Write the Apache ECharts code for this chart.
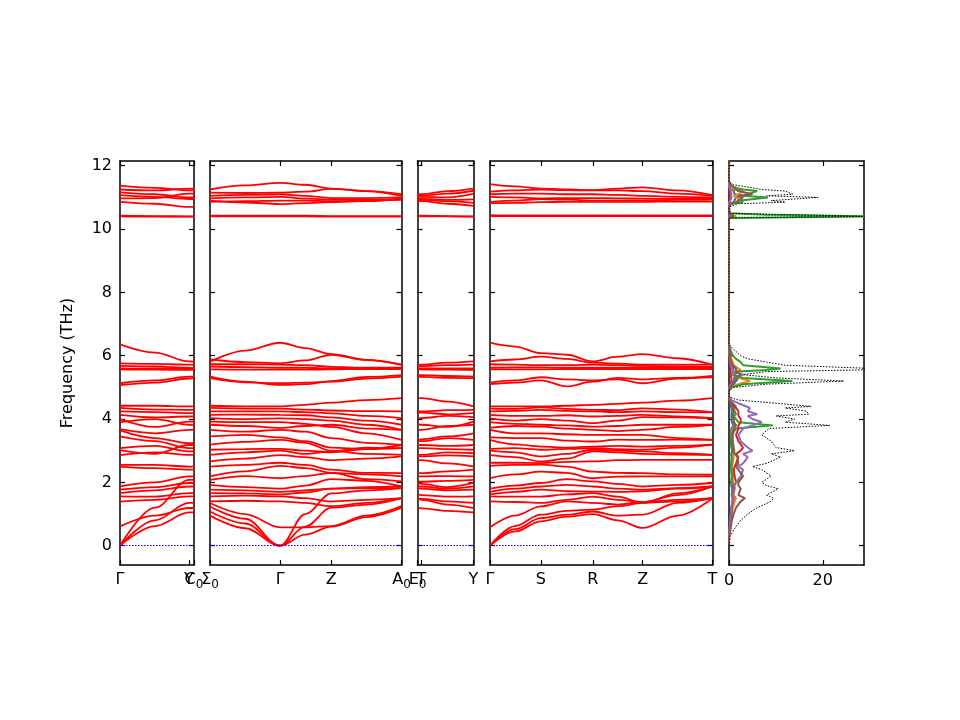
<!DOCTYPE html>
<html>
<head>
<meta charset="utf-8">
<title>Phonon bands and DOS</title>
<script src="https://cdn.jsdelivr.net/npm/echarts@6.0.0/dist/echarts.min.js"></script>
<style>
  html, body { margin: 0; padding: 0; background: #fff; }
  #chart { width: 960px; height: 720px; }
</style>
</head>
<body>
<div id="chart"></div>
<script>
// ---------------- data ----------------
var yTicks = [0, 2, 4, 6, 8, 10, 12];

// panel 1 : Γ - Y - C0
var p1X = [0, 35, 69, 74];
var p1Ticks = [0, 69, 74];
var p1Labels = ['Γ', 'Y', 'C₀'];
var p1Bands = [
  [11.37, 11.30, 11.22, 11.22], [11.25, 11.22, 11.28, 11.28], [11.16, 11.10, 11.00, 11.00],
  [11.07, 11.02, 10.95, 10.95], [10.97, 10.98, 11.12, 11.12], [10.86, 10.80, 10.70, 10.70],
  [10.42, 10.41, 10.40, 10.40], [10.40, 10.39, 10.39, 10.39],
  [6.36, 6.10, 5.82, 5.81], [5.76, 5.74, 5.72, 5.71], [5.68, 5.66, 5.62, 5.60],
  [5.60, 5.59, 5.58, 5.58], [5.57, 5.56, 5.55, 5.55], [5.13, 5.22, 5.34, 5.34],
  [5.07, 5.15, 5.28, 5.29],
  [4.42, 4.42, 4.40, 4.40], [4.35, 4.30, 4.29, 4.29], [4.24, 4.22, 4.19, 4.19],
  [4.13, 4.05, 4.08, 4.08], [4.00, 3.75, 3.92, 3.92], [3.90, 4.00, 3.82, 3.82],
  [3.68, 3.55, 3.66, 3.66], [3.64, 3.40, 3.24, 3.24], [3.45, 3.30, 3.08, 3.08],
  [3.08, 3.15, 2.98, 2.98], [3.02, 2.90, 3.18, 3.18], [2.86, 2.95, 2.87, 2.87],
  [2.55, 2.55, 2.50, 2.50], [2.50, 2.45, 2.40, 2.40], [1.87, 2.00, 2.19, 2.19],
  [1.77, 1.85, 1.98, 1.98], [1.66, 1.75, 1.87, 1.87], [1.56, 1.55, 1.66, 1.66],
  [1.39, 1.45, 1.56, 1.56], [0.61, 0.95, 1.19, 1.19],
  [0, 1.20, 2.08, 2.08], [0, 0.80, 1.35, 1.35], [0, 0.62, 1.05, 1.05]
];

// panel 2 : Σ0 - Γ - Z - A0
var p2X = [0, 35, 70, 95, 121, 156, 191];
var p2Ticks = [0, 70, 121, 191];
var p2Labels = ['Σ₀', 'Γ', 'Z', 'A₀'];
var p2Bands = [
  [11.25, 11.38, 11.46, 11.40, 11.28, 11.20, 11.10],
  [11.15, 11.14, 11.15, 11.18, 11.27, 11.20, 11.05],
  [11.05, 11.08, 11.10, 11.05, 10.98, 10.98, 11.00],
  [10.97, 11.00, 11.02, 10.96, 10.93, 10.92, 10.95],
  [10.86, 10.88, 10.90, 10.90, 10.88, 10.90, 10.92],
  [10.90, 10.84, 10.79, 10.82, 10.85, 10.88, 10.98],
  [10.42, 10.42, 10.42, 10.42, 10.41, 10.41, 10.41],
  [10.40, 10.40, 10.40, 10.40, 10.39, 10.39, 10.39],
  [5.81, 6.16, 6.41, 6.24, 6.05, 5.87, 5.71],
  [5.88, 5.80, 5.76, 5.85, 6.03, 5.86, 5.72],
  [5.73, 5.73, 5.72, 5.70, 5.65, 5.62, 5.62],
  [5.66, 5.64, 5.62, 5.62, 5.60, 5.60, 5.60],
  [5.57, 5.56, 5.56, 5.56, 5.57, 5.58, 5.58],
  [5.34, 5.18, 5.08, 5.10, 5.20, 5.33, 5.39],
  [5.29, 5.16, 5.13, 5.15, 5.18, 5.28, 5.34],
  [4.42, 4.40, 4.40, 4.45, 4.52, 4.60, 4.66],
  [4.35, 4.33, 4.33, 4.30, 4.27, 4.25, 4.24],
  [4.24, 4.24, 4.24, 4.22, 4.18, 4.10, 4.03],
  [4.13, 4.14, 4.13, 4.12, 4.05, 3.95, 3.82],
  [4.03, 4.00, 4.02, 4.00, 3.95, 3.82, 3.66],
  [3.92, 3.90, 3.90, 3.85, 3.75, 3.55, 3.34],
  [3.82, 3.78, 3.72, 3.78, 3.82, 3.70, 3.66],
  [3.66, 3.60, 3.66, 3.60, 3.40, 3.25, 3.18],
  [3.45, 3.50, 3.42, 3.30, 3.10, 3.05, 3.08],
  [3.19, 3.28, 3.34, 3.25, 3.00, 2.90, 2.87],
  [3.03, 3.05, 3.06, 3.00, 2.95, 3.05, 3.18],
  [2.87, 2.95, 3.00, 2.90, 2.98, 3.10, 3.08],
  [2.66, 2.75, 2.86, 2.80, 2.70, 2.75, 2.82],
  [2.50, 2.55, 2.62, 2.55, 2.40, 2.30, 2.29],
  [2.19, 2.35, 2.52, 2.45, 2.30, 2.25, 2.19],
  [2.08, 2.20, 2.13, 2.20, 2.30, 2.10, 2.03],
  [1.92, 1.85, 1.80, 1.90, 2.10, 2.05, 1.87],
  [1.77, 1.75, 1.70, 1.75, 1.80, 1.85, 1.87],
  [1.66, 1.65, 1.62, 1.68, 1.80, 1.82, 1.82],
  [1.56, 1.58, 1.56, 1.50, 1.40, 1.45, 1.50],
  [1.40, 1.42, 1.40, 1.35, 1.25, 1.35, 1.50],
  [1.35, 1.00, 0.58, 0.58, 0.62, 0.95, 1.25],
  [1.24, 0.85, 0, 1.00, 1.65, 1.75, 1.82],
  [1.08, 0.70, 0, 0.60, 1.20, 1.30, 1.50],
  [0.95, 0.55, 0, 0.35, 0.60, 0.90, 1.20]
];

// panel 3 : E0 - T - Y
var p3X = [0, 4, 30, 56];
var p3Ticks = [0, 4, 56];
var p3Labels = ['E₀', 'T', 'Y'];
var p3Bands = [
  [11.10, 11.10, 11.20, 11.28], [11.05, 11.05, 11.12, 11.21], [11.02, 11.02, 11.00, 11.12],
  [10.95, 10.95, 10.92, 10.94], [10.92, 10.92, 10.88, 10.83], [10.88, 10.88, 10.80, 10.73],
  [10.42, 10.42, 10.41, 10.40], [10.40, 10.40, 10.40, 10.39],
  [5.71, 5.72, 5.78, 5.82], [5.66, 5.67, 5.70, 5.72], [5.60, 5.60, 5.60, 5.60],
  [5.57, 5.57, 5.56, 5.55], [5.39, 5.39, 5.36, 5.34], [5.34, 5.33, 5.30, 5.29],
  [4.66, 4.66, 4.55, 4.40], [4.24, 4.24, 4.28, 4.29], [4.20, 4.20, 4.15, 4.19],
  [4.03, 4.03, 4.10, 4.06], [3.82, 3.82, 3.75, 3.92], [3.66, 3.66, 3.78, 3.82],
  [3.34, 3.36, 3.45, 3.55], [3.30, 3.30, 3.40, 3.34], [3.18, 3.18, 3.15, 3.18],
  [3.08, 3.08, 3.05, 3.03], [2.87, 2.87, 2.95, 2.92], [2.82, 2.82, 2.85, 2.82],
  [2.71, 2.70, 2.60, 2.50], [2.29, 2.29, 2.35, 2.40], [2.19, 2.19, 2.20, 2.19],
  [2.03, 2.02, 2.05, 2.08], [1.98, 1.95, 1.85, 1.98], [1.87, 1.87, 1.80, 1.87],
  [1.82, 1.80, 1.75, 1.77], [1.61, 1.60, 1.55, 1.56], [1.50, 1.48, 1.40, 1.35],
  [1.50, 1.45, 1.30, 1.19], [1.20, 1.18, 1.10, 1.05]
];

// panel 4 : Γ - S - R - Z - T
var p4X = [0, 25, 51, 77, 103, 128, 153, 188, 223];
var p4Ticks = [0, 51, 103, 153, 223];
var p4Labels = ['Γ', 'S', 'R', 'Z', 'T'];
var p4Bands = [
  [11.42, 11.35, 11.28, 11.25, 11.23, 11.28, 11.32, 11.22, 11.07],
  [11.18, 11.22, 11.25, 11.23, 11.22, 11.22, 11.20, 11.12, 11.05],
  [11.10, 11.12, 11.12, 11.10, 11.10, 11.08, 11.05, 11.02, 11.00],
  [11.02, 11.00, 10.97, 10.98, 10.98, 10.97, 10.96, 10.95, 10.95],
  [10.86, 10.90, 10.95, 10.93, 10.90, 10.90, 10.90, 10.92, 10.93],
  [10.82, 10.83, 10.85, 10.86, 10.86, 10.86, 10.86, 10.87, 10.87],
  [10.44, 10.43, 10.43, 10.43, 10.43, 10.43, 10.43, 10.43, 10.43],
  [10.41, 10.41, 10.41, 10.41, 10.41, 10.41, 10.41, 10.41, 10.41],
  [6.41, 6.29, 6.08, 6.03, 5.82, 5.97, 6.05, 5.92, 5.71],
  [5.82, 5.88, 5.97, 5.90, 5.78, 5.75, 5.72, 5.72, 5.72],
  [5.73, 5.72, 5.70, 5.70, 5.72, 5.70, 5.68, 5.66, 5.65],
  [5.62, 5.63, 5.63, 5.62, 5.62, 5.62, 5.62, 5.62, 5.62],
  [5.57, 5.57, 5.57, 5.58, 5.58, 5.58, 5.58, 5.58, 5.58],
  [5.15, 5.22, 5.32, 5.25, 5.22, 5.25, 5.13, 5.28, 5.36],
  [5.10, 5.15, 5.22, 5.03, 5.18, 5.30, 5.25, 5.30, 5.32],
  [4.40, 4.40, 4.40, 4.42, 4.45, 4.48, 4.52, 4.58, 4.66],
  [4.33, 4.32, 4.37, 4.32, 4.29, 4.28, 4.34, 4.30, 4.21],
  [4.24, 4.26, 4.29, 4.26, 4.24, 4.22, 4.24, 4.22, 4.21],
  [4.13, 4.10, 4.10, 4.12, 4.08, 4.10, 4.13, 4.08, 4.03],
  [4.02, 3.95, 4.00, 3.95, 3.87, 3.95, 4.06, 4.05, 4.03],
  [3.90, 3.85, 3.82, 3.80, 3.76, 3.78, 3.82, 3.82, 3.82],
  [3.72, 3.78, 3.76, 3.70, 3.66, 3.62, 3.66, 3.75, 3.82],
  [3.66, 3.55, 3.55, 3.52, 3.50, 3.50, 3.50, 3.40, 3.34],
  [3.42, 3.40, 3.40, 3.32, 3.29, 3.35, 3.34, 3.35, 3.34],
  [3.34, 3.20, 3.13, 3.10, 3.13, 3.15, 3.13, 3.15, 3.19],
  [3.06, 3.08, 3.03, 3.06, 3.08, 3.05, 3.03, 3.10, 3.19],
  [3.00, 2.95, 2.82, 2.90, 3.03, 3.00, 2.98, 2.92, 2.87],
  [2.86, 2.80, 2.66, 2.75, 2.98, 2.95, 2.90, 2.88, 2.87],
  [2.62, 2.62, 2.61, 2.65, 2.66, 2.70, 2.71, 2.71, 2.71],
  [2.52, 2.55, 2.56, 2.50, 2.34, 2.30, 2.29, 2.25, 2.24],
  [2.13, 2.25, 2.34, 2.30, 2.13, 2.18, 2.19, 2.19, 2.19],
  [1.80, 1.90, 1.98, 2.10, 2.03, 1.95, 1.87, 1.92, 1.98],
  [1.70, 1.80, 1.87, 1.92, 1.87, 1.80, 1.77, 1.82, 1.87],
  [1.62, 1.70, 1.77, 1.72, 1.71, 1.70, 1.72, 1.80, 1.87],
  [1.56, 1.55, 1.55, 1.62, 1.66, 1.55, 1.35, 1.40, 1.50],
  [1.40, 1.38, 1.35, 1.45, 1.55, 1.45, 1.38, 1.45, 1.50],
  [0.58, 0.95, 1.24, 1.40, 1.35, 1.30, 1.38, 1.60, 1.87],
  [0, 0.62, 0.98, 1.10, 1.14, 1.25, 1.35, 1.65, 1.87],
  [0, 0.52, 0.87, 0.98, 1.08, 0.95, 0.98, 1.35, 1.50],
  [0, 0.45, 0.77, 0.92, 1.00, 0.80, 0.56, 0.95, 1.50]
];

// DOS panel (x = states, y = frequency)
var dosTicks = [0, 20];
var dosFreq = [
  0, 0.3, 0.5, 0.8, 1.0, 1.2, 1.4, 1.5, 1.6, 1.8,
  1.9, 2.0, 2.2, 2.4, 2.5, 2.6, 2.8, 2.9, 3.0, 3.1,
  3.3, 3.5, 3.7, 3.8, 3.9, 4.0, 4.1, 4.15, 4.25, 4.35,
  4.4, 4.5, 4.6, 4.7, 4.9, 5.0, 5.1, 5.2, 5.3, 5.4,
  5.5, 5.55, 5.6, 5.7, 5.8, 5.9, 6.0, 6.2, 6.35, 6.5,
  10.2, 10.35, 10.4, 10.45, 10.5, 10.7, 10.8, 10.85, 10.9, 11.0,
  11.05, 11.1, 11.2, 11.25, 11.3, 11.4, 11.5, 12.2
];
var dosTotal = [
  0, 0.3, 1, 2.5, 4, 6, 9, 9.5, 8, 10.5,
  8, 7, 9, 7, 5, 8, 11, 9, 14, 10,
  9, 7, 8.5, 21.5, 12, 14, 10, 17, 16.5, 12,
  17.5, 10, 2, 0, 0, 1, 8, 24.5, 10, 3,
  8, 28, 30, 12, 8, 4, 2.5, 1, 0, 0,
  0, 0, 30, 15, 0, 0, 2, 12, 9, 19,
  8, 13.6, 12, 7, 5, 1, 0, 0
];
var dosBlue = [
  0, 0, 0.1, 0.3, 0.4, 0.5, 0.7, 0.8, 0.6, 0.7,
  0.5, 0.5, 0.6, 0.5, 0.4, 0.5, 0.6, 0.5, 0.7, 0.5,
  0.4, 0.4, 0.5, 1, 0.6, 0.6, 0.5, 0.6, 0.6, 0.5,
  0.6, 0.3, 0.1, 0, 0, 0.2, 1, 1.5, 2, 0.6,
  0.8, 1, 1, 0.6, 0.5, 0.3, 0.2, 0.1, 0, 0,
  0, 0, 1, 0.5, 0, 0, 0.2, 1, 1.2, 1.5,
  3, 1.2, 1, 0.6, 0.3, 0.1, 0, 0
];
var dosOrange = [
  0, 0, 0.2, 0.4, 0.6, 0.8, 1.2, 1.5, 1, 1.2,
  0.8, 0.8, 1, 0.8, 0.6, 0.8, 1, 0.8, 1.2, 0.8,
  0.6, 0.5, 0.8, 1.5, 1, 1, 0.8, 1, 1, 0.8,
  1, 0.5, 0.2, 0, 0, 0.3, 2, 4.5, 2, 0.8,
  1.5, 2.5, 2, 1, 0.8, 0.5, 0.3, 0.1, 0, 0,
  0, 0, 1.5, 0.8, 0, 0, 0.3, 2, 2.5, 1.5,
  1, 2, 3, 1, 0.5, 0.1, 0, 0
];
var dosGreen = [
  0, 0, 0.2, 0.4, 0.5, 0.6, 0.8, 0.8, 0.6, 0.8,
  0.6, 0.5, 0.6, 0.5, 0.4, 0.5, 0.6, 0.5, 0.8, 0.6,
  0.5, 0.6, 1.5, 9.4, 2, 1.5, 1, 1.5, 1.2, 1,
  1.5, 0.8, 0.2, 0, 0, 0.5, 3, 13.5, 3, 1,
  2, 8, 11, 3, 2.5, 1.5, 0.8, 0.3, 0, 0,
  0, 0, 30, 8, 0, 0, 0.5, 3, 2.5, 8.3,
  3, 4, 6, 3, 1.5, 0.3, 0, 0
];
var dosRed = [
  0, 0, 0.1, 0.3, 0.5, 0.6, 0.8, 1, 0.8, 1,
  1, 1.5, 1.2, 1, 1.2, 1.5, 2, 1.5, 2.5, 3,
  2, 1.5, 2, 2, 2.5, 2.5, 2, 2, 2, 1.5,
  1.5, 0.5, 0.1, 0, 0, 0, 0.2, 0.5, 0.5, 0.3,
  0.3, 0.4, 0.4, 0.3, 0.2, 0.1, 0, 0, 0, 0,
  0, 0, 0.3, 0.2, 0, 0, 0, 0.2, 0.2, 0.3,
  0.2, 0.2, 0.2, 0.1, 0.1, 0, 0, 0
];
var dosPurple = [
  0, 0, 0.1, 0.3, 0.4, 0.5, 0.8, 1, 0.8, 1.2,
  1.2, 1.5, 2.5, 3, 2, 3, 4, 3, 5, 4,
  2.5, 2, 3, 5, 7, 5, 4, 6, 4, 4.5,
  4.5, 2, 0.5, 0, 0, 0, 0.5, 1, 1, 3,
  1, 0.8, 0.6, 0.4, 0.3, 0.2, 0.1, 0, 0, 0,
  0, 0, 0.3, 0.2, 0, 0, 0, 0.3, 0.3, 0.5,
  0.4, 0.5, 0.4, 0.2, 0.1, 0, 0, 0
];
var dosBrown = [
  0, 0, 0.3, 0.6, 1, 1.5, 2.5, 3.4, 2, 2.5,
  2, 2, 3, 2, 1.5, 2, 1.8, 1.2, 1, 1,
  0.8, 0.8, 1, 1.5, 1, 1, 0.8, 1, 1, 0.8,
  1, 0.5, 0.1, 0, 0, 0.2, 0.8, 1, 1.5, 2.5,
  1.5, 1.5, 1.5, 0.8, 0.5, 0.3, 0.2, 0.1, 0, 0,
  0, 0, 1, 0.5, 0, 0, 0.3, 1.5, 1.5, 3,
  2, 5, 2, 1.5, 1.5, 0.3, 0, 0
];

// ---------------- layout ----------------
var FONT = 'DejaVu Sans';
var Y_MIN = -0.61, Y_MAX = 12.15;
var grids = [
  {left: 120, top: 161, width: 74, height: 404},
  {left: 210, top: 161, width: 191.5, height: 404},
  {left: 417.5, top: 161, width: 56, height: 404},
  {left: 490, top: 161, width: 222.5, height: 404},
  {left: 729, top: 161, width: 135, height: 404}
];

var panels = [
  {x: p1X, bands: p1Bands, ticks: p1Ticks, labels: p1Labels},
  {x: p2X, bands: p2Bands, ticks: p2Ticks, labels: p2Labels},
  {x: p3X, bands: p3Bands, ticks: p3Ticks, labels: p3Labels},
  {x: p4X, bands: p4Bands, ticks: p4Ticks, labels: p4Labels}
];

var frame = {onZero: false, lineStyle: {color: '#000', width: 1.5}};
function tickStyle(vals) {
  return {inside: true, length: 5, customValues: vals, lineStyle: {color: '#000', width: 1.2}};
}
// high-symmetry label with a subscript 0 -> rich text
var richLabel = {
  m: {fontSize: 16, fontFamily: FONT, color: '#000', lineHeight: 16, verticalAlign: 'top'},
  s: {fontSize: 12, fontFamily: FONT, color: '#000', lineHeight: 12, padding: [7, 0, 0, 0], verticalAlign: 'top'}
};
function toRich(txt) {
  return txt.indexOf('₀') >= 0 ? '{m|' + txt.replace('₀', '') + '}{s|0}' : '{m|' + txt + '}';
}

var xAxes = [], yAxes = [], series = [];

function addFrame(gi, xmax, xt, xLabel, showY) {
  xAxes.push({gridIndex: gi, type: 'value', position: 'bottom', min: 0, max: xmax,
    axisLine: frame, axisTick: tickStyle(xt), axisLabel: xLabel, splitLine: {show: false}});
  xAxes.push({gridIndex: gi, type: 'value', position: 'top', min: 0, max: xmax,
    axisLine: frame, axisTick: tickStyle(xt), axisLabel: {show: false}, splitLine: {show: false}});

  var y1 = {gridIndex: gi, type: 'value', position: 'left', min: Y_MIN, max: Y_MAX,
    axisLine: frame, axisTick: tickStyle(yTicks),
    axisLabel: {show: showY, customValues: yTicks, color: '#000', fontSize: 16, fontFamily: FONT, margin: 8},
    splitLine: {show: false}};
  if (showY) {
    y1.name = 'Frequency (THz)';
    y1.nameLocation = 'middle';
    y1.nameGap = 44;
    y1.nameTextStyle = {color: '#000', fontSize: 16, fontFamily: FONT};
  }
  yAxes.push(y1);
  yAxes.push({gridIndex: gi, type: 'value', position: 'right', min: Y_MIN, max: Y_MAX,
    axisLine: frame, axisTick: tickStyle(yTicks), axisLabel: {show: false}, splitLine: {show: false}});
}

panels.forEach(function (p, gi) {
  var xs = p.x, xmax = xs[xs.length - 1];
  var axisBase = xAxes.length, yBase = yAxes.length;
  addFrame(gi, xmax, p.ticks, {show: false}, gi === 0);
  // one label-only axis per high-symmetry point, so close labels are all kept
  p.ticks.forEach(function (t, i) {
    xAxes.push({gridIndex: gi, type: 'value', position: 'bottom', min: 0, max: xmax,
      axisLine: {show: false, onZero: false}, axisTick: {show: false}, splitLine: {show: false},
      axisLabel: {customValues: [t], margin: 7, rich: richLabel,
        formatter: function () { return toRich(p.labels[i]); }}});
  });
  p.bands.forEach(function (b, bi) {
    var s = {
      type: 'line', xAxisIndex: axisBase, yAxisIndex: yBase,
      data: xs.map(function (x, i) { return [x, b[i]]; }),
      showSymbol: false, smooth: 0.35, smoothMonotone: 'x', silent: true,
      lineStyle: {color: '#ff0000', width: 1.8}
    };
    if (bi === 0) {
      s.markLine = {
        silent: true, symbol: 'none', label: {show: false},
        lineStyle: {color: '#0000ff', width: 1, type: [1.5, 1.5]},
        data: [{yAxis: 0}]
      };
    }
    series.push(s);
  });
});

// DOS panel
var dosX = xAxes.length, dosY = yAxes.length;
addFrame(4, 28.8, dosTicks, {customValues: dosTicks, color: '#000', fontSize: 16, fontFamily: FONT,
  margin: 8, showMinLabel: true, showMaxLabel: true}, false);
var pdos = [
  [dosBlue, '#1f77b4'], [dosOrange, '#ff7f0e'], [dosGreen, '#2ca02c'],
  [dosRed, '#d62728'], [dosPurple, '#9467bd'], [dosBrown, '#8c564b']
];
pdos.forEach(function (d) {
  series.push({
    type: 'line', xAxisIndex: dosX, yAxisIndex: dosY, showSymbol: false, silent: true,
    data: dosFreq.map(function (f, i) { return [d[0][i], f]; }),
    lineStyle: {color: d[1], width: 2}
  });
});
series.push({
  type: 'line', xAxisIndex: dosX, yAxisIndex: dosY, showSymbol: false, silent: true,
  data: dosFreq.map(function (f, i) { return [dosTotal[i], f]; }),
  lineStyle: {color: '#000', width: 1, type: [1.5, 1.5]}
});

var chart = echarts.init(document.getElementById('chart'), null, {renderer: 'canvas'});
chart.setOption({
  backgroundColor: '#fff',
  animation: false,
  grid: grids,
  xAxis: xAxes,
  yAxis: yAxes,
  series: series
});
window.onresize = chart.resize;
</script>
</body>
</html>
